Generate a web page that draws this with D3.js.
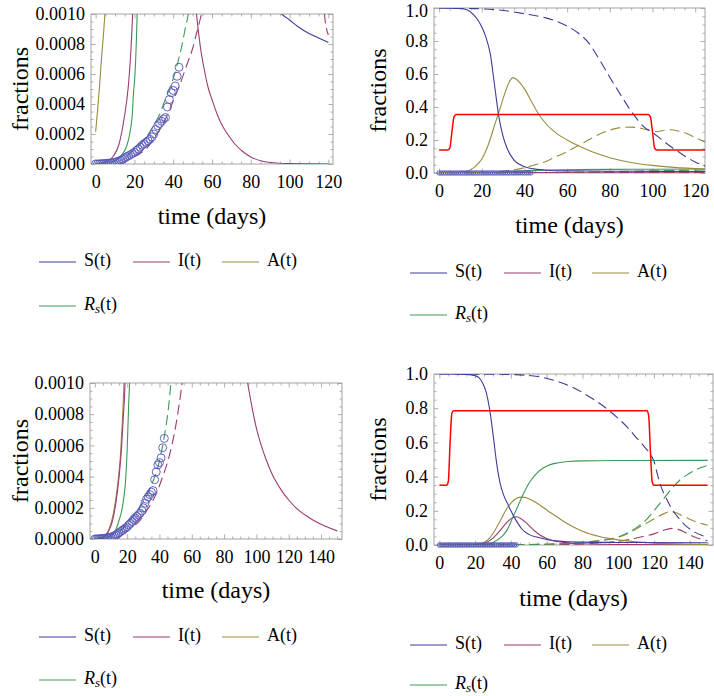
<!DOCTYPE html>
<html><head><meta charset="utf-8">
<script src="https://cdn.jsdelivr.net/npm/d3@7"></script>
<style>
body{margin:0;background:#fff}
svg{display:block}
text{font-family:"Liberation Serif","Times New Roman",serif;fill:#000}
</style>
</head><body>
<svg id="c" width="714" height="696"></svg>
<script>
// ---------- observed data (fraction of population), days 0..43 ----------
const obsDays = [0,1,2,3,4,5,6,7,8,9,10,11,12,13,14,15,16,17,18,19,20,21,22,23,24,25,26,27,28,29,30,31,32,33,34,35,36,37,38,39,40,41,42,43];
const obsFrac = [0,0,0.000001,0.000002,0.000003,0.000004,0.000005,0.000006,0.000008,0.00001,0.000012,0.000016,0.00002,0.000026,0.000032,0.00004,0.000048,0.000055,0.000062,0.00007,0.000078,0.00009,0.0001,0.000112,0.000125,0.000135,0.000145,0.000155,0.000165,0.00018,0.0002,0.00023,0.000255,0.00027,0.000285,0.0003,0.00031,0.00038,0.00043,0.000475,0.00049,0.00052,0.000585,0.000645];

// ---------- top-left panel (zoom) ----------
const tlS  = [[94,0.00103],[96,0.001],[100,0.00096],[105,0.00091],[110,0.00087],[115,0.00084],[120,0.00081]];
const tlI  = [[0,0.000002],[3,0.000007],[6,0.000018],[9,0.00005],[12,0.00013],[14,0.00025],[16,0.00042],[17,0.00054],[18,0.00072],[19,0.00098],[19.5,0.0012],[25,0.004],[40,0.005],[50,0.0013],[52,0.001],[54,0.00078],[56,0.00063],[58,0.00051],[60,0.00043],[63,0.00032],[66,0.00024],[68,0.0002],[72,0.00013],[76,0.000082],[80,0.000047],[85,0.000022],[90,0.00001],[100,0.000003],[120,0.0000005]];
const tlA  = [[0,0.000215],[1,0.00036],[2,0.00052],[3,0.0007],[4,0.00086],[5,0.00104],[6,0.0012]];
const tlR  = [[0,0],[5,0.000004],[8,0.00001],[11,0.000028],[14,0.00007],[16,0.00012],[17.7,0.00021],[19,0.00035],[19.4,0.00045],[20.3,0.0006],[21,0.00082],[21.4,0.001],[22,0.0013]];
const tlRd = [[16,0.00005],[20,0.0001],[25,0.00016],[30,0.00026],[33,0.00033],[35,0.0004],[38,0.0005],[40,0.00057],[42,0.00066],[44.3,0.00078],[46,0.00089],[47.8,0.001],[49,0.0011]];
const tlId = [[20,0.00005],[23,0.00007],[26,0.0001],[30,0.00017],[33,0.00023],[36,0.0003],[40,0.00042],[44,0.00055],[47,0.00066],[50,0.00077],[52,0.00087],[54,0.00097],[55,0.00103],[58,0.0013],[80,0.01],[110,0.003],[117,0.0012],[118,0.001],[120,0.00086]];

// ---------- top-right panel ----------
const trS  = [[0,1],[5,0.9995],[10,0.997],[13,0.99],[16,0.962],[18,0.93],[20,0.885],[22,0.82],[24,0.72],[26,0.53],[28,0.34],[30,0.22],[32,0.145],[35,0.08],[38,0.05],[42,0.03],[46,0.022],[50,0.017],[60,0.013],[80,0.011],[100,0.01],[125,0.009]];
const trSd = [[0,1],[10,0.999],[20,0.995],[30,0.985],[40,0.965],[50,0.94],[55,0.92],[60,0.89],[65,0.85],[70,0.79],[75,0.69],[80,0.58],[85,0.475],[90,0.375],[96,0.28],[100,0.245],[104,0.205],[108,0.165],[112,0.13],[116,0.095],[120,0.067],[125,0.04]];
const trA  = [[0,0.0005],[5,0.001],[10,0.004],[14,0.015],[17,0.04],[20,0.085],[23,0.17],[26,0.29],[29,0.41],[31,0.49],[33,0.555],[34.5,0.578],[36,0.57],[38,0.545],[40,0.51],[43,0.44],[46,0.37],[50,0.3],[55,0.24],[60,0.2],[66,0.16],[72,0.127],[80,0.093],[90,0.064],[100,0.046],[110,0.034],[125,0.023]];
const trAd = [[0,0],[20,0.002],[25,0.005],[30,0.012],[35,0.02],[40,0.032],[45,0.05],[50,0.07],[55,0.1],[60,0.13],[65,0.165],[70,0.2],[75,0.235],[80,0.26],[85,0.275],[90,0.278],[95,0.27],[99,0.258],[102,0.25],[105,0.258],[108,0.262],[112,0.255],[116,0.24],[120,0.215],[125,0.185]];
const trR  = [[0,0],[20,0.0005],[25,0.002],[30,0.005],[35,0.01],[40,0.014],[50,0.018],[60,0.02],[80,0.022],[100,0.023],[125,0.024]];
const trRd = [[0,0],[40,0.001],[60,0.004],[80,0.008],[100,0.013],[125,0.018]];
const trI  = [[0,0],[20,0.001],[30,0.004],[35,0.005],[40,0.0045],[50,0.003],[70,0.001],[125,0.0003]];
const trId = [[0,0],[60,0.001],[90,0.003],[110,0.003],[125,0.002]];
const trRed = [[0,0.14],[4,0.14],[5,0.15],[6,0.25],[7,0.34],[8,0.355],[98,0.355],[99,0.34],[100,0.25],[101,0.15],[102,0.14],[125,0.14]];

// ---------- bottom-left panel (zoom) ----------
const blA  = [[0,0.000002],[4,0.000008],[7,0.00003],[9,0.00007],[11,0.00014],[13,0.00026],[15,0.00043],[16,0.00056],[17,0.00075],[18,0.001],[18.5,0.0012]];
const blI  = [[0,0.000002],[4,0.000007],[7,0.000025],[9,0.00006],[11,0.00012],[13,0.00023],[15,0.0004],[16.5,0.00058],[17.5,0.00076],[18.7,0.001],[19.2,0.0012],[30,0.05],[60,0.02],[90,0.0013],[94.6,0.001],[97,0.00086],[100,0.00071],[103,0.0006],[106,0.00051],[110,0.00041],[115,0.00032],[120,0.00025],[125,0.000195],[130,0.000155],[135,0.000122],[140,0.000095],[145,0.000072],[150,0.000052]];
const blR  = [[0,0],[5,0.000004],[8,0.000012],[11,0.00003],[13,0.00006],[15,0.00012],[17,0.0002],[18,0.00027],[19,0.00037],[20,0.00057],[21,0.00088],[21.5,0.001],[22,0.0012]];
const blRd = [[15,0.00004],[20,0.0001],[25,0.00016],[30,0.00024],[33,0.0003],[36,0.00037],[40,0.0005],[42,0.0006],[44,0.00072],[46,0.00088],[47,0.00099],[48,0.0011]];
const blId = [[25,0.00009],[28,0.00012],[32,0.00018],[35,0.00023],[38,0.00029],[42,0.0004],[46,0.00053],[50,0.00072],[52,0.00085],[54,0.001],[55,0.0011]];

// ---------- bottom-right panel ----------
const brS  = [[0,1],[10,0.9995],[15,0.998],[20,0.99],[22,0.98],[24,0.95],[26,0.9],[28,0.8],[30,0.65],[32,0.48],[34,0.36],[36,0.29],[38,0.245],[40,0.2],[42,0.16],[44,0.125],[46,0.095],[50,0.062],[55,0.045],[60,0.032],[65,0.024],[70,0.02],[80,0.017],[100,0.015],[150,0.013]];
const brSd = [[0,1],[30,0.999],[45,0.995],[55,0.985],[65,0.96],[75,0.92],[85,0.86],[92,0.81],[100,0.74],[105,0.69],[110,0.63],[115,0.57],[118,0.53],[120,0.49],[122,0.41],[124,0.34],[127,0.27],[130,0.21],[134,0.155],[138,0.11],[142,0.08],[147,0.055],[150,0.045]];
const brR  = [[0,0],[20,0.0005],[25,0.003],[30,0.015],[35,0.05],[38,0.09],[41,0.16],[44,0.23],[47,0.3],[50,0.36],[54,0.415],[58,0.45],[62,0.47],[66,0.48],[72,0.488],[80,0.492],[100,0.494],[150,0.495]];
const brA  = [[0,0],[15,0.0005],[20,0.003],[25,0.015],[28,0.04],[31,0.085],[34,0.14],[37,0.2],[40,0.245],[43,0.272],[46,0.28],[49,0.275],[52,0.26],[56,0.235],[60,0.205],[65,0.17],[70,0.135],[75,0.105],[80,0.08],[90,0.048],[100,0.03],[110,0.018],[120,0.011],[150,0.003]];
const brI  = [[0,0],[15,0.0003],[20,0.002],[25,0.01],[30,0.04],[34,0.085],[38,0.135],[41,0.16],[43,0.165],[45,0.158],[48,0.135],[50,0.115],[53,0.085],[56,0.06],[60,0.038],[65,0.022],[70,0.014],[80,0.007],[100,0.003],[150,0.001]];
const brRd = [[0,0],[40,0.001],[60,0.005],[80,0.015],[90,0.025],[98,0.04],[104,0.065],[110,0.1],[115,0.14],[120,0.2],[125,0.265],[130,0.33],[135,0.385],[140,0.42],[145,0.447],[150,0.465]];
const brAd = [[0,0],[60,0.004],[80,0.015],[90,0.027],[100,0.045],[106,0.07],[112,0.105],[118,0.14],[122,0.165],[126,0.185],[129,0.195],[132,0.19],[136,0.17],[140,0.15],[145,0.13],[150,0.115]];
const brId = [[0,0],[70,0.003],[90,0.012],[100,0.022],[108,0.035],[114,0.05],[120,0.065],[125,0.085],[130,0.097],[134,0.09],[138,0.07],[142,0.05],[146,0.035],[150,0.025]];
const brRed = [[0,0.35],[4,0.35],[5,0.37],[6,0.6],[7,0.77],[8,0.785],[116,0.785],[117,0.76],[118,0.55],[119,0.37],[120,0.35],[150,0.35]];

// ---------- tick labels ----------
const xTicks120 = [0,20,40,60,80,100,120];
const xTicks140 = [0,20,40,60,80,100,120,140];
const yTicksZoom = [0,0.0002,0.0004,0.0006,0.0008,0.001];
const yTicksFull = [0,0.2,0.4,0.6,0.8,1.0];
const legendNames = ["S(t)","I(t)","A(t)","Rs(t)"];

// ---------- styling ----------
const C = {S:"rgb(61,61,153)", I:"rgb(153,61,113)", A:"rgb(153,139,61)", R:"rgb(61,153,86)", red:"#ff0000", obs:"rgb(85,85,185)"};
const frameCol = "#9a9a9a";
const svg = d3.select("#c");

function panel(c){
  const x = d3.scaleLinear().domain(c.xd).range([c.x0,c.x1]);
  const y = d3.scaleLinear().domain(c.yd).range([c.y1,c.y0]);
  const g = svg.append("g");
  const cid = "clip_"+c.name;
  svg.append("clipPath").attr("id",cid).append("rect")
    .attr("x",c.x0).attr("y",c.y0).attr("width",c.x1-c.x0).attr("height",c.y1-c.y0);

  const xMinor = d3.range(0, c.xd[1]+0.001, 5).filter(v=>c.xMajor.indexOf(v)<0);
  const yStep = (c.yMajor[1]-c.yMajor[0])/4;
  const yMinor = d3.range(0, c.yd[1]+yStep/2, yStep).filter(v=>!c.yMajor.some(m=>Math.abs(m-v)<yStep/10));

  function styleAx(sel){
    sel.select(".domain").remove();
    sel.selectAll(".tick line").attr("stroke",frameCol).attr("stroke-width",0.8);
    sel.selectAll(".tick text").attr("font-size",null).style("font-size","18px")
      .style("font-family",'"Liberation Serif","Times New Roman",serif').attr("fill","#000");
  }
  const fmtY = d3.format(c.fmtY);
  g.append("g").attr("transform",`translate(0,${c.y1})`)
    .call(d3.axisBottom(x).tickValues(c.xMajor).tickSize(-4.5).tickPadding(11).tickFormat(d3.format("d"))).call(styleAx);
  g.append("g").attr("transform",`translate(0,${c.y1})`)
    .call(d3.axisBottom(x).tickValues(xMinor).tickSize(-2.5).tickFormat("")).call(styleAx);
  g.append("g").attr("transform",`translate(0,${c.y0})`)
    .call(d3.axisTop(x).tickValues(c.xMajor).tickSize(-4.5).tickFormat("")).call(styleAx);
  g.append("g").attr("transform",`translate(0,${c.y0})`)
    .call(d3.axisTop(x).tickValues(xMinor).tickSize(-2.5).tickFormat("")).call(styleAx);
  const la = g.append("g").attr("transform",`translate(${c.x0},0)`)
    .call(d3.axisLeft(y).tickValues(c.yMajor).tickSize(-4.5).tickPadding(6).tickFormat(fmtY)).call(styleAx);
  if(c.topLabelShift){
    la.selectAll(".tick text").filter(d=>d===c.yd[1]).attr("y",c.topLabelShift);
  }
  g.append("g").attr("transform",`translate(${c.x0},0)`)
    .call(d3.axisLeft(y).tickValues(yMinor).tickSize(-2.5).tickFormat("")).call(styleAx);
  g.append("g").attr("transform",`translate(${c.x1},0)`)
    .call(d3.axisRight(y).tickValues(c.yMajor).tickSize(-4.5).tickFormat("")).call(styleAx);
  g.append("g").attr("transform",`translate(${c.x1},0)`)
    .call(d3.axisRight(y).tickValues(yMinor).tickSize(-2.5).tickFormat("")).call(styleAx);

  g.append("rect").attr("x",c.x0).attr("y",c.y0).attr("width",c.x1-c.x0).attr("height",c.y1-c.y0)
    .attr("fill","none").attr("stroke",frameCol).attr("stroke-width",0.9);

  const pg = g.append("g").attr("clip-path",`url(#${cid})`);
  const line = d3.line().x(d=>x(d[0])).y(d=>y(d[1])).curve(d3.curveMonotoneX);
  c.series.forEach(s=>{
    pg.append("path").datum(s.data).attr("d",line).attr("fill","none")
      .attr("stroke",s.color).attr("stroke-width",s.w||1.1)
      .attr("stroke-dasharray",s.dash?"10,5":null);
  });
  const og = c.clipObs ? pg : g;
  og.append("g").selectAll("circle").data(obsDays.map((d,i)=>[d,obsFrac[i]])).join("circle")
    .attr("cx",d=>x(d[0])).attr("cy",d=>y(d[1])).attr("r",c.obsR)
    .attr("fill","none").attr("stroke",C.obs).attr("stroke-width",0.9);

  const cx = (c.x0+c.x1)/2;
  g.append("text").attr("x",cx).attr("y",c.y1+c.tdy).attr("text-anchor","middle")
    .attr("dominant-baseline","middle").style("font-size","24px").text("time (days)");
  g.append("text").attr("transform",`translate(${c.yl},${(c.y0+c.y1)/2}) rotate(-90)`)
    .attr("text-anchor","middle").attr("dominant-baseline","middle").style("font-size","24px").text("fractions");

  const cols = [C.S,C.I,C.A,C.R];
  const pos = [[0,0],[1,0],[2,0],[0,1]];
  cols.forEach((col,i)=>{
    const lx = c.legX[pos[i][0]], ly = c.legY[pos[i][1]];
    g.append("line").attr("x1",lx).attr("x2",lx+37).attr("y1",ly).attr("y2",ly)
      .attr("stroke",col).attr("stroke-width",1.1);
    const t = g.append("text").attr("x",lx+45).attr("y",ly).attr("dominant-baseline","middle").style("font-size","18px");
    const name = legendNames[i];
    if(name==="Rs(t)"){
      t.append("tspan").style("font-style","italic").text("R");
      t.append("tspan").style("font-style","italic").style("font-size","13px").attr("dy",4).text("s");
      t.append("tspan").attr("dy",-4).text("(t)");
    } else t.text(name);
  });
}

panel({name:"tl", x0:91,x1:333,y0:14,y1:164, xd:[-2.4,122.4], yd:[0,0.001],
  xMajor:xTicks120, yMajor:yTicksZoom, fmtY:".4f", yl:22, obsR:4, clipObs:true, tdy:54,
  legX:[39,133,222], legY:[262,306],
  series:[
    {data:tlS,color:C.S},{data:tlI,color:C.I},{data:tlA,color:C.A},{data:tlR,color:C.R},
    {data:tlRd,color:C.R,dash:true},{data:tlId,color:C.I,dash:true}
  ]});

panel({name:"tr", x0:434,x1:705,y0:8,y1:173, xd:[-2.4,124.6], yd:[0,1],
  xMajor:xTicks120, yMajor:yTicksFull, fmtY:".1f", yl:380, obsR:2.2, clipObs:false, tdy:54,
  topLabelShift:3,
  legX:[410,504,592], legY:[273,315],
  series:[
    {data:trId,color:C.I,dash:true},{data:trRd,color:C.R,dash:true},
    {data:trI,color:C.I},{data:trR,color:C.R},
    {data:trAd,color:C.A,dash:true},{data:trSd,color:C.S,dash:true},
    {data:trA,color:C.A},{data:trS,color:C.S},
    {data:trRed,color:C.red,w:1.5}
  ]});

panel({name:"bl", x0:90,x1:342,y0:383,y1:539, xd:[-3,153], yd:[0,0.001],
  xMajor:xTicks140, yMajor:yTicksZoom, fmtY:".4f", yl:22, obsR:4, clipObs:true, tdy:53,
  legX:[39,133,222], legY:[637,680],
  series:[
    {data:blA,color:C.A},{data:blI,color:C.I},{data:blR,color:C.R},
    {data:blRd,color:C.R,dash:true},{data:blId,color:C.I,dash:true}
  ]});

panel({name:"br", x0:434,x1:713,y0:374,y1:545, xd:[-3,153], yd:[0,1],
  xMajor:xTicks140, yMajor:yTicksFull, fmtY:".1f", yl:380, obsR:2.2, clipObs:false, tdy:55,
  legX:[410,504,592], legY:[645,685],
  series:[
    {data:brId,color:C.I,dash:true},{data:brAd,color:C.A,dash:true},{data:brRd,color:C.R,dash:true},
    {data:brSd,color:C.S,dash:true},
    {data:brI,color:C.I},{data:brA,color:C.A},{data:brR,color:C.R},{data:brS,color:C.S},
    {data:brRed,color:C.red,w:1.5}
  ]});
</script>
</body></html>
